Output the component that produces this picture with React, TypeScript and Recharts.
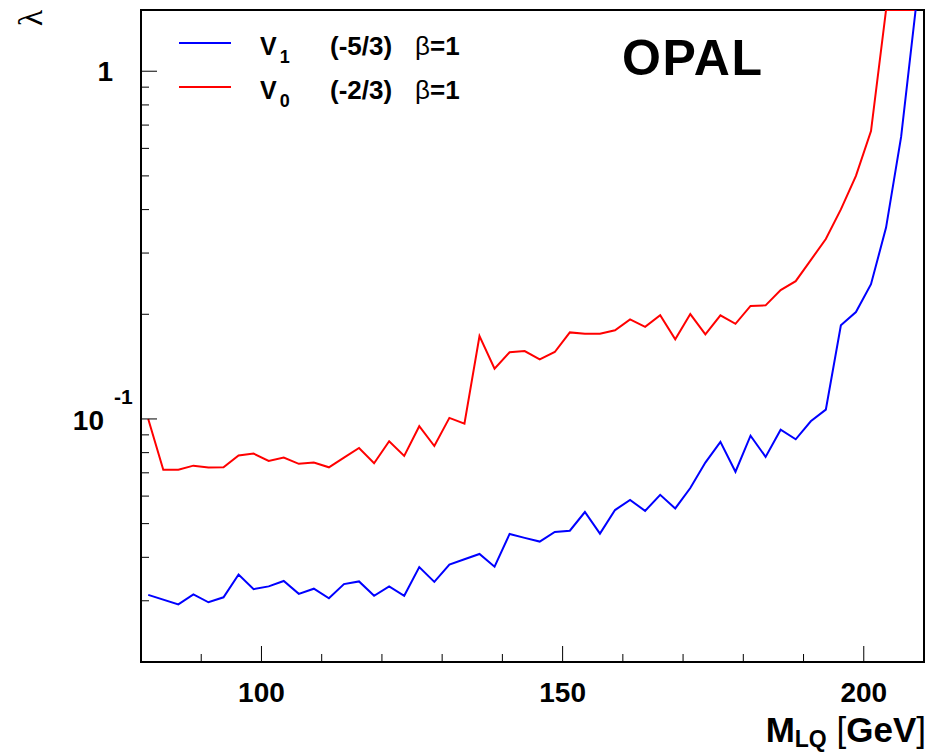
import React from "react";
import { LineChart, Line, XAxis, YAxis, ReferenceArea } from "recharts";

// Leptoquark mass points [GeV]
const masses = [
  81.2, 83.7, 86.2, 88.7, 91.2, 93.7, 96.2, 98.7, 101.2, 103.7,
  106.2, 108.7, 111.2, 113.7, 116.2, 118.7, 121.2, 123.7, 126.2, 128.7,
  131.2, 133.7, 136.2, 138.7, 141.2, 143.7, 146.2, 148.7, 151.2, 153.7,
  156.2, 158.7, 161.2, 163.7, 166.2, 168.7, 171.2, 173.7, 176.2, 178.7,
  181.2, 183.7, 186.2, 188.7, 191.2, 193.7, 196.2, 198.7, 201.2, 203.7,
  206.2, 208.7,
];

// V1 (-5/3) beta=1 limit on lambda
const v1Values: (number | null)[] = [
  0.0312, null, 0.0293, 0.0313, 0.0297, 0.0307, 0.0357, 0.0324, 0.033, 0.0342,
  0.0314, 0.0325, 0.0305, 0.0335, 0.0341, 0.031, 0.033, 0.031, 0.0375, 0.034,
  0.0381, 0.0395, 0.0409, 0.0376, 0.0467, 0.0455, 0.0444, 0.0473, 0.0477, 0.054,
  0.0468, 0.0547, 0.0585, 0.0544, 0.0605, 0.0553, 0.0633, 0.0749, 0.0859, 0.0705,
  0.0895, 0.0778, 0.0931, 0.0874, 0.0985, 0.1064, 0.186, 0.203, 0.244, 0.355,
  0.647, 1.55,
];

// V0 (-2/3) beta=1 limit on lambda
const v0Values: (number | null)[] = [
  0.1, 0.0714, 0.0714, 0.0734, 0.0725, 0.0726, 0.0785, 0.0795, 0.0757, 0.0774,
  0.0743, 0.0749, 0.0726, 0.0774, 0.0825, 0.0746, 0.0863, 0.0783, 0.0953, 0.0836,
  0.1007, 0.0969, 0.1732, 0.1395, 0.1555, 0.1568, 0.1484, 0.1558, 0.1774, 0.1758,
  0.1758, 0.1799, 0.1934, 0.1841, 0.1987, 0.1694, 0.2003, 0.1751, 0.1987, 0.1878,
  0.2113, 0.2122, 0.2348, 0.2491, 0.2863, 0.3291, 0.4005, 0.5002, 0.6726, 1.5,
  1.5, 1.5,
];

const xTicks = [90, 100, 110, 120, 130, 140, 150, 160, 170, 180, 190, 200];
const xLabelTicks = [100, 150, 200];
const yTicks = [
  0.02, 0.03, 0.04, 0.05, 0.06, 0.07, 0.08, 0.09, 0.1,
  0.2, 0.3, 0.4, 0.5, 0.6, 0.7, 0.8, 0.9, 1,
];
const yLabelTicks = [0.1, 1];

const data = masses.map((m, i) => ({ m, v1: v1Values[i], v0: v0Values[i] }));

const FONT = "'Liberation Sans', Arial, Helvetica, sans-serif";

const XTick = (props: any) => {
  const { x, y, payload } = props;
  const v = payload.value;
  const major = xLabelTicks.includes(v);
  return (
    <g>
      <line x1={x} x2={x} y1={y} y2={y - (major ? 16 : 8)} stroke="#000" strokeWidth={1} />
      {major && (
        <text x={x} y={y + 40} textAnchor="middle" fontFamily={FONT} fontWeight="bold" fontSize={28} fill="#000">
          {v}
        </text>
      )}
    </g>
  );
};

const YTick = (props: any) => {
  const { x, y, payload } = props;
  const v = payload.value;
  const major = yLabelTicks.includes(v);
  return (
    <g>
      <line x1={x} x2={x + (major ? 16 : 8)} y1={y} y2={y} stroke="#000" strokeWidth={1} />
      {v === 1 && (
        <text x={x - 28} y={y + 10} textAnchor="end" fontFamily={FONT} fontWeight="bold" fontSize={28} fill="#000">
          1
        </text>
      )}
      {v === 0.1 && (
        <g>
          <text x={x - 37} y={y + 11} textAnchor="end" fontFamily={FONT} fontWeight="bold" fontSize={28} fill="#000">
            10
          </text>
          <text x={x - 27} y={y - 15} textAnchor="start" fontFamily={FONT} fontWeight="bold" fontSize={21} fill="#000">
            -1
          </text>
        </g>
      )}
    </g>
  );
};

export default function App() {
  return (
    <div style={{ position: "absolute", left: 0, top: 0, width: 934, height: 752, background: "#fff" }}>
      <LineChart width={934} height={752} data={data} margin={{ top: 10, right: 10, bottom: 0, left: 0 }}>
        <XAxis
          dataKey="m"
          type="number"
          domain={[80, 210]}
          ticks={xTicks}
          allowDataOverflow
          height={90}
          axisLine={false}
          tickLine={false}
          tickSize={0}
          tickMargin={0}
          tick={<XTick />}
          interval={0}
        />
        <YAxis
          type="number"
          scale="log"
          domain={[0.02, 1.5]}
          ticks={yTicks}
          allowDataOverflow
          width={141}
          axisLine={false}
          tickLine={false}
          tickSize={0}
          tickMargin={0}
          tick={<YTick />}
          interval={0}
        />
        <Line dataKey="v0" stroke="#ff0000" strokeWidth={2} dot={false} type="linear" isAnimationActive={false} connectNulls />
        <Line dataKey="v1" stroke="#0000ff" strokeWidth={2} dot={false} type="linear" isAnimationActive={false} connectNulls />
        <ReferenceArea x1={80} x2={210} y1={0.02} y2={1.5} fill="none" stroke="#000" strokeWidth={2} ifOverflow="visible" />
      </LineChart>
      <svg width={934} height={752} style={{ position: "absolute", left: 0, top: 0, pointerEvents: "none" }}>
        {/* y title */}
        <text x={0} y={0} transform="translate(42,18) rotate(-90)" textAnchor="middle" fontFamily="'Liberation Serif', 'DejaVu Serif', serif" fontSize={34} fill="#000">
          λ
        </text>
        {/* OPAL */}
        <text x={622} y={75} fontFamily={FONT} fontWeight="bold" fontSize={50} fill="#000" textLength={140}>OPAL</text>
        {/* legend */}
        <line x1={179} x2={231} y1={43} y2={43} stroke="#0000ff" strokeWidth={2} />
        <text x={260} y={55} fontFamily={FONT} fontWeight="bold" fontSize={25} fill="#000">
          V<tspan dx={3} dy={8} fontSize={18}>1</tspan>
        </text>
        <text x={330} y={55} fontFamily={FONT} fontWeight="bold" fontSize={26} fill="#000">(-5/3)</text>
        <text x={415} y={55} fontFamily={FONT} fontSize={26} fill="#000">
          β<tspan fontWeight="bold">=1</tspan>
        </text>
        <line x1={179} x2={231} y1={87} y2={87} stroke="#ff0000" strokeWidth={2} />
        <text x={260} y={99} fontFamily={FONT} fontWeight="bold" fontSize={25} fill="#000">
          V<tspan dx={3} dy={8} fontSize={18}>0</tspan>
        </text>
        <text x={330} y={99} fontFamily={FONT} fontWeight="bold" fontSize={26} fill="#000">(-2/3)</text>
        <text x={415} y={99} fontFamily={FONT} fontSize={26} fill="#000">
          β<tspan fontWeight="bold">=1</tspan>
        </text>
        {/* x title */}
        <text x={926} y={742} textAnchor="end" fontFamily={FONT} fontWeight="bold" fontSize={35} fill="#000">
          M<tspan dy={5} fontSize={23}>LQ</tspan>
          <tspan dy={-5} fontWeight="normal"> [</tspan>GeV<tspan fontWeight="normal">]</tspan>
        </text>
      </svg>
    </div>
  );
}
